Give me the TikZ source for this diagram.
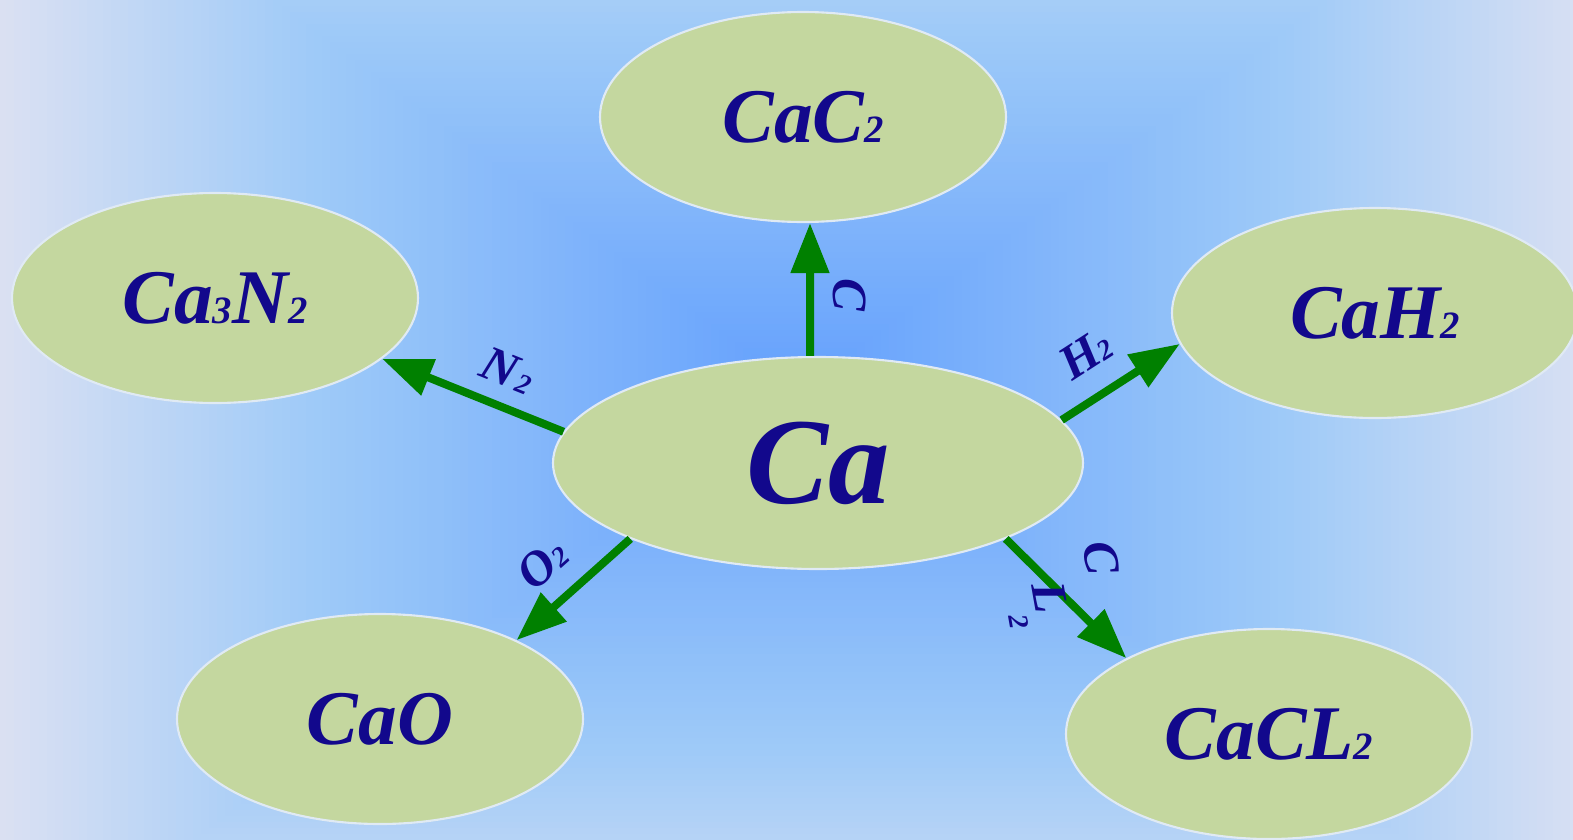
\documentclass[tikz,border=0pt]{standalone}
\usepackage{fontspec}
\setmainfont{Liberation Serif}
\usepackage{graphicx}
\usepackage{xcolor}
\usepackage{tikz}
\usetikzlibrary{shapes.geometric,arrows.meta}

\definecolor{leaf}{RGB}{196,215,159}
\definecolor{rim}{RGB}{224,234,244}
\definecolor{ink}{RGB}{18,8,140}
\definecolor{arrowgreen}{RGB}{0,128,0}
\definecolor{glowA}{RGB}{100,160,253}
\definecolor{glowD}{RGB}{158,202,248}
\definecolor{glowF}{RGB}{220,225,242}

\newcommand{\sm}[1]{{\fontsize{11}{12}\selectfont #1}}
\newcommand{\tn}[1]{{\fontsize{8}{9}\selectfont #1}}
\newcommand{\tilt}[1]{$\vcenter{\hbox{\rotatebox{62}{#1}}}$}

\begin{document}
\begin{tikzpicture}[
  bubble/.style={ellipse, draw=rim, line width=0.6pt, fill=leaf, inner sep=0pt, text=ink, font=\fontsize{22}{26}\selectfont\bfseries\itshape, minimum width=4.06cm, minimum height=2.1cm},
  arrow/.style={draw=arrowgreen, line width=0.08cm, -{Triangle[length=0.5cm,width=0.37cm]}},
  lbl/.style={text=ink, inner sep=1pt, font=\fontsize{14}{16}\selectfont\bfseries\itshape}
]
  \useasboundingbox (0,0) rectangle (15.73,8.39);
  \begin{scope}
    \clip (0,0) rectangle (15.73,8.39);
    \foreach \k in {0,...,99}{
      \pgfmathsetmacro{\t}{1-\k/100}
      \pgfmathtruncatemacro{\mixA}{min(100,max(0,(\t-0.6)/0.4*100))}
      \pgfmathtruncatemacro{\mixB}{min(100,\t/0.6*100)}
      \colorlet{bandtmp}{glowD!\mixB!glowA}
      \fill[glowF!\mixA!bandtmp] (8-8.1*\t,4.49-6*\t) rectangle (8+8.1*\t,4.49+6*\t);
    }
  \end{scope}

  \node[bubble] (cac2)  at (8.03,7.22)  {CaC\sm{2}};
  \node[bubble] (ca3n2) at (2.15,5.41)  {Ca\sm{3}N\sm{2}};
  \node[bubble] (cah2)  at (13.75,5.26) {CaH\sm{2}};
  \node[bubble, minimum width=5.3cm, minimum height=2.12cm, font=\fontsize{35}{40}\selectfont\bfseries\itshape] (ca) at (8.18,3.76) {Ca};
  \node[bubble] (cao)   at (3.80,1.20)  {CaO};
  \node[bubble] (cacl2) at (12.69,1.05) {CaCL\sm{2}};

  \draw[arrow] ([xshift=-0.8mm]ca.north) -- ([xshift=0.7mm]cac2.south)
    node[lbl, pos=0.46, rotate=-90, above, inner ysep=5.4pt] {C};
  \draw[arrow] (ca.173) -- (ca3n2.-20)
    node[lbl, pos=0.38, sloped, above, inner ysep=4.5pt] {N\kern1pt\tn{2}};
  \draw[arrow] (ca.10) -- (cah2.189)
    node[lbl, pos=0.4, sloped, above, inner ysep=6.3pt] {H\tn{2}};
  \draw[arrow] (ca.202) -- (cao.30)
    node[lbl, pos=0.54, sloped, above, inner ysep=5.4pt] {O\tn{2}};
  \draw[arrow] (ca.-22) -- (cacl2.152)
    node[lbl, pos=0.45, xshift=1.05mm, yshift=1.07mm, rotate=-142, inner sep=0pt]
    {\makebox[0.75cm]{\tilt{C}}\makebox[0.55cm]{\tilt{L}}\makebox[0.23cm]{\tilt{\tn{2}}}};
\end{tikzpicture}
\end{document}
